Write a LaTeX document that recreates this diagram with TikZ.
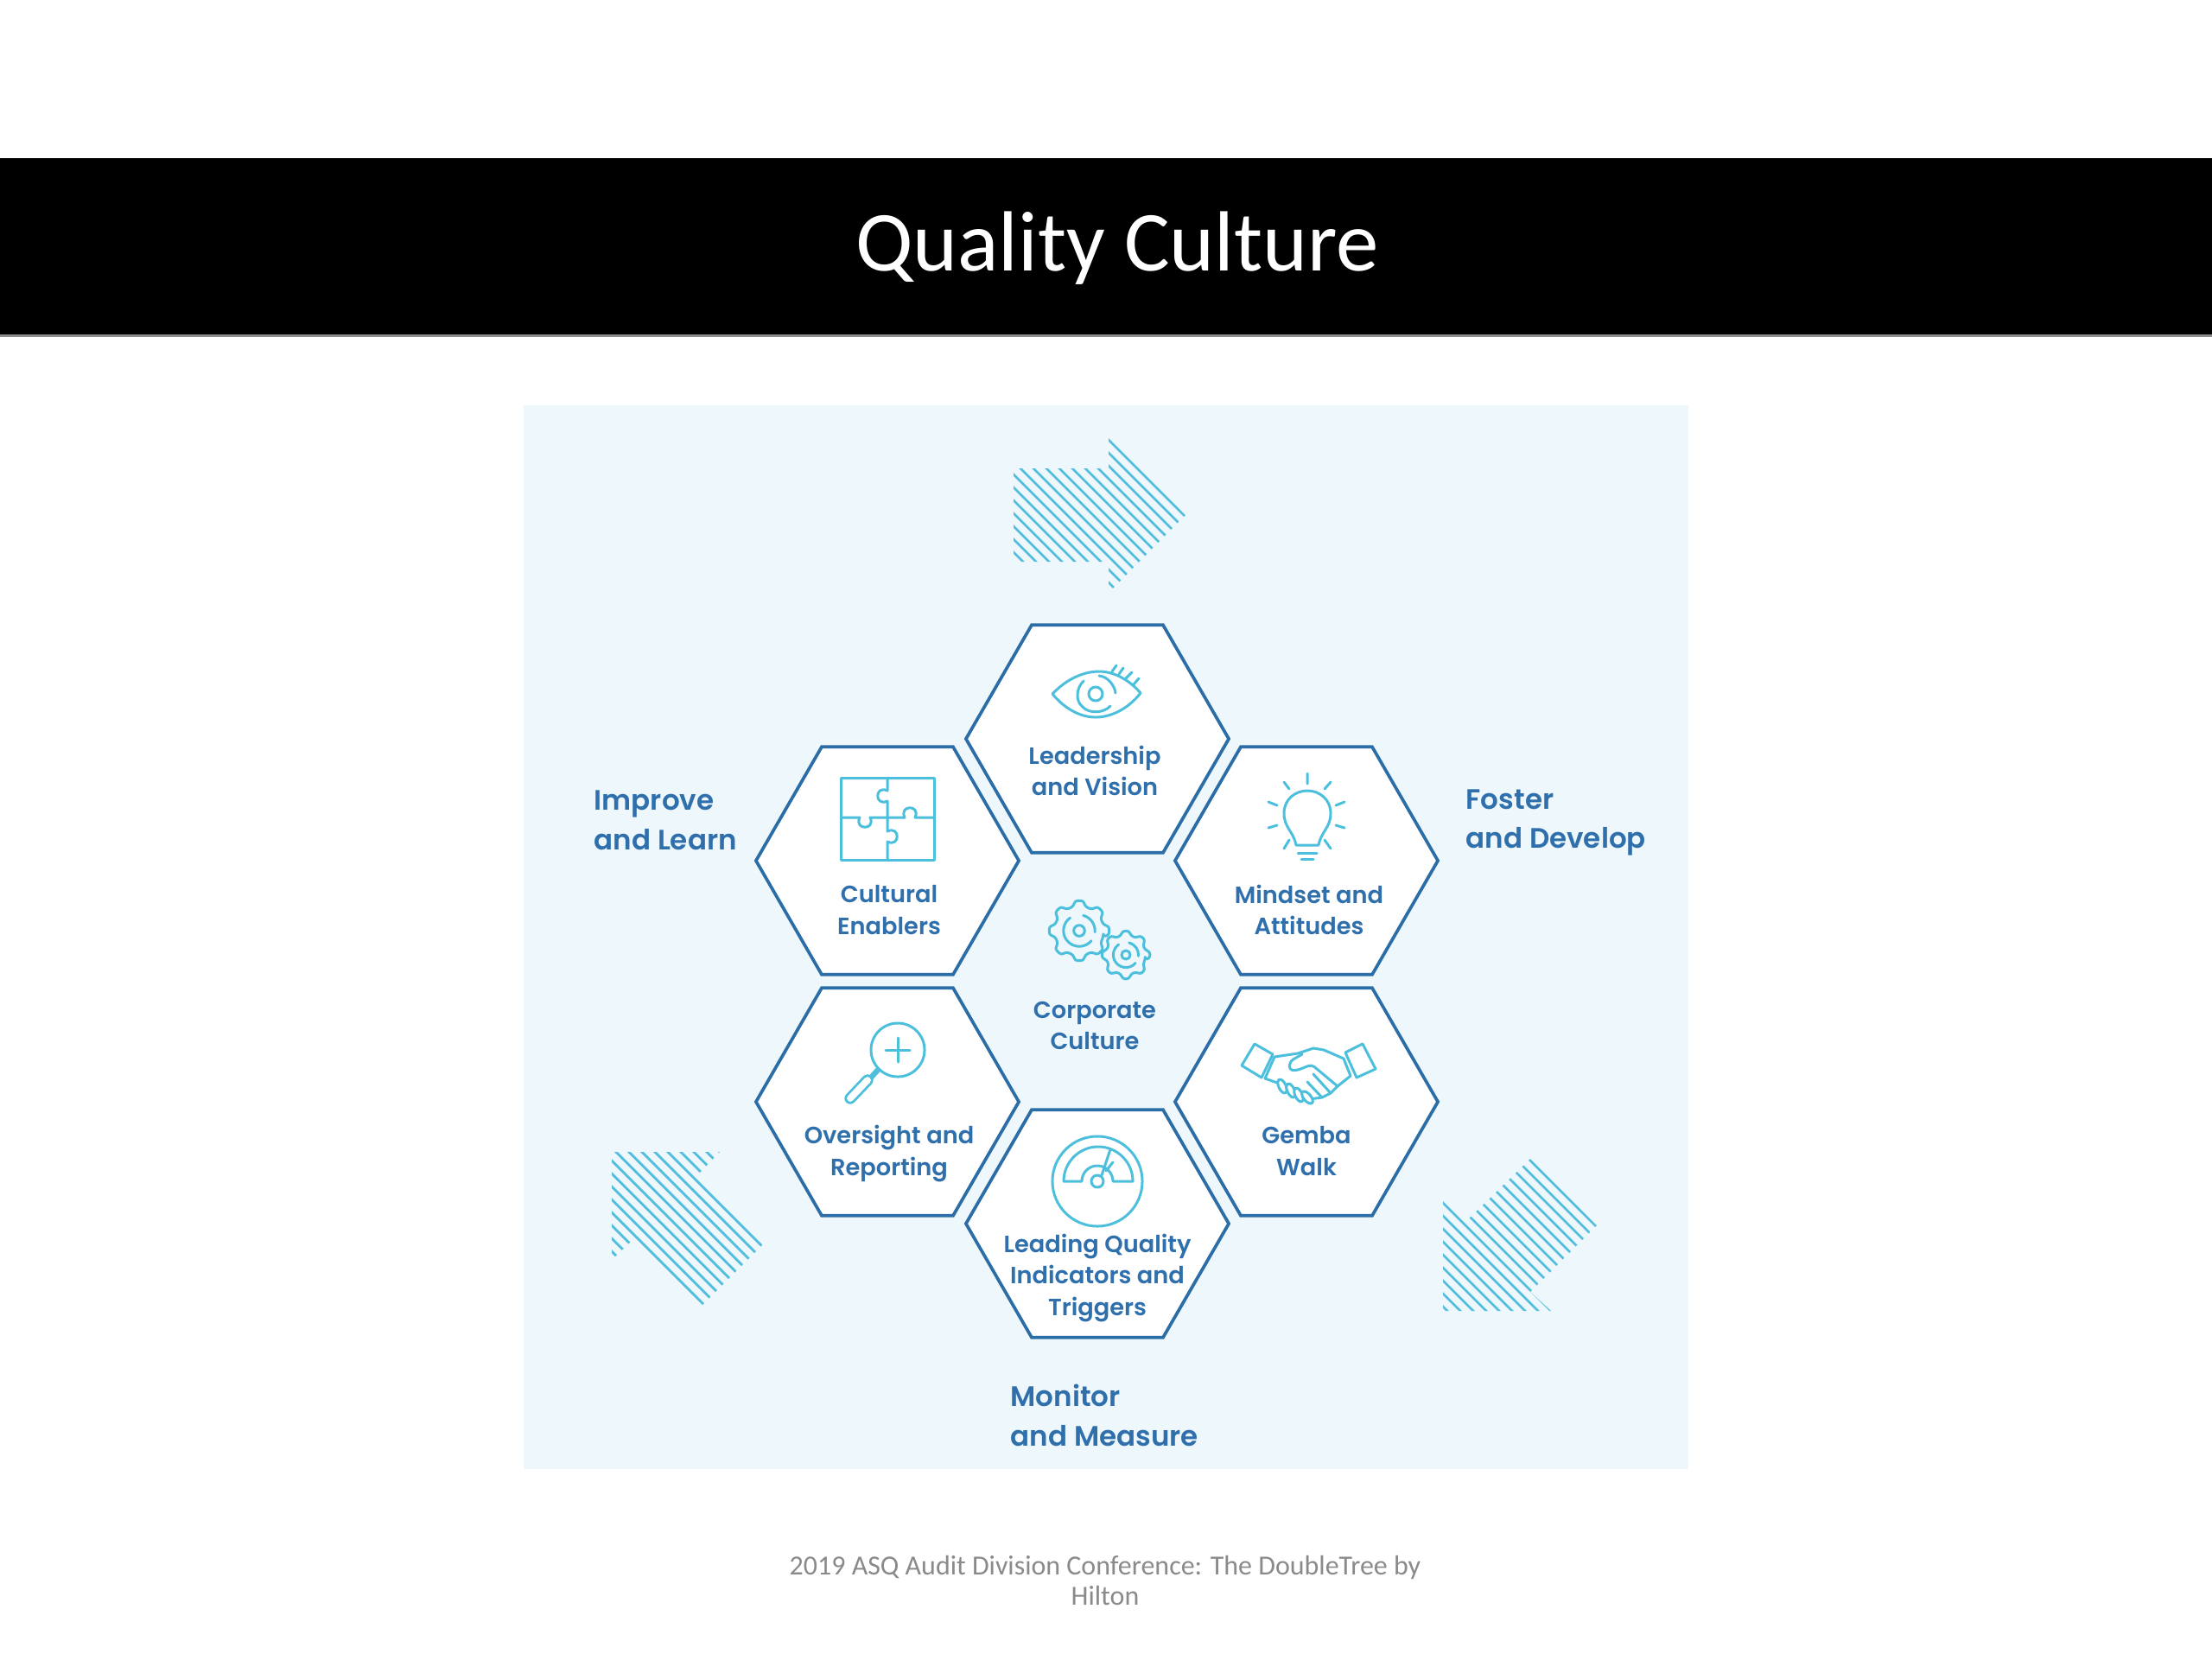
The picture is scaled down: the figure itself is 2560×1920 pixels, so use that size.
\documentclass[tikz,border=0pt]{standalone}
\usepackage{fontspec}
\usetikzlibrary{shapes.geometric}
\setmainfont{Carlito}
\newfontfamily\labfont{Poppins SemiBold}
\definecolor{panelc}{HTML}{EEF7FC}
\definecolor{hexc}{HTML}{2B6DA6}
\definecolor{textc}{HTML}{2F70AC}
\definecolor{iconc}{HTML}{4CBFDC}
\definecolor{hatchc}{HTML}{52BEDD}
\definecolor{footc}{HTML}{8A8A8A}
\tikzset{
 hexa/.style={regular polygon,regular polygon sides=6,minimum size=3.04cm,inner sep=0pt,outer sep=0pt,draw=hexc,fill=white,line width=1.05pt},
 lab/.style={font=\labfont\fontsize{7.75}{10.3}\selectfont,text=textc,align=center,inner sep=0pt},
 biglab/.style={font=\labfont\fontsize{9.25}{13}\selectfont,text=textc,align=left,inner sep=0pt,anchor=west},
 icon/.style={draw=iconc,line width=0.85pt,line join=round,line cap=round},
 hatch/.style={draw=hatchc,line width=0.8pt}
}
\newcommand\gearicon[3]{%
 \draw[icon,rounded corners=0.03cm] ([shift={(#1,#2)}]-14:#3*0.82) \foreach \t in {0,45,...,315}{
   -- ([shift={(#1,#2)}]\t-14:#3*0.82) -- ([shift={(#1,#2)}]\t-8:#3) -- ([shift={(#1,#2)}]\t+8:#3) -- ([shift={(#1,#2)}]\t+14:#3*0.82)
 } -- cycle;
 \draw[icon] (#1,#2) circle (#3*0.18);
 \draw[icon] ([shift={(#1,#2)}]125:#3*0.52) arc (125:320:#3*0.52);
 \draw[icon] ([shift={(#1,#2)}]-5:#3*0.52) arc (-5:75:#3*0.52);
}
\begin{document}
\begin{tikzpicture}[x=0.01cm,y=-0.01cm]
\useasboundingbox (0,0) rectangle (2560,1920);
\fill[white] (0,0) rectangle (2560,1920);
\fill[black!45] (0,386) rectangle (2560,390);
\fill[black] (0,183) rectangle (2560,387);
\node[font=\fontsize{28.1}{32}\selectfont,text=white,inner sep=0pt] (title) at (1293,287) {Quality Culture};
\fill[panelc] (606,469) rectangle (1954,1700);
% hatched arrows
\begin{scope}
\clip (1173,542) -- (1283,542) -- (1283,503) -- (1372,596) -- (1283,686) -- (1283,650) -- (1173,650) -- cycle;
\foreach \k in {0,...,18}{ \draw[hatch] ({1000},{1000-774+15*\k}) -- ({1500},{1500-774+15*\k}); }
\end{scope}
\begin{scope}
\clip (708,1333) -- (833,1333) -- (805,1362) -- (883,1440) -- (813,1510) -- (735,1432) -- (708,1458) -- cycle;
\foreach \k in {0,...,16}{ \draw[hatch] ({600},{600+500+15*\k}) -- ({1000},{1000+500+15*\k}); }
\end{scope}
\begin{scope}
\clip (1670,1390) -- (1695,1415) -- (1772,1340) -- (1848,1418) -- (1771,1495) -- (1795,1517) -- (1670,1517) -- cycle;
\foreach \k in {0,...,18}{ \draw[hatch] ({1600},{1600-428+15*\k}) -- ({1900},{1900-428+15*\k}); }
\end{scope}
% hexagons
\node[hexa] (hlead) at (1270,855) {};
\node[hexa] (hcult) at (1027,996) {};
\node[hexa] (hmind) at (1512,996) {};
\node[hexa] (hover) at (1027,1275) {};
\node[hexa] (hgemba) at (1512,1275) {};
\node[hexa] (hqual) at (1270,1416) {};
% eye
\draw[icon] (1218,803) .. controls (1235,785) and (1255,777) .. (1272,777) .. controls (1292,777) and (1310,790) .. (1320,802) .. controls (1306,820) and (1286,830) .. (1268,830) .. controls (1250,830) and (1232,820) .. cycle;
\draw[icon] (1268,803) circle (0.08cm);
\draw[icon] (1254,788) .. controls (1245,797) and (1245,811) .. (1252,817) .. controls (1260,827) and (1278,825) .. (1285,817);
\draw[icon] (1272,782) .. controls (1282,783) and (1290,793) .. (1291,802);
\draw[icon] (1287,777) -- (1292,770) (1295,780) -- (1300,773) (1303,785) -- (1310,778) (1312,792) -- (1318,785);
% puzzle
\draw[icon] (973,900) rectangle (1081,995);
\draw[icon] (1027,900) -- (1027,915) .. controls (1012,908) and (1012,934) .. (1027,927) -- (1027,962) .. controls (1042,955) and (1042,981) .. (1027,974) -- (1027,995);
\draw[icon] (973,946) -- (995,946) .. controls (988,961) and (1014,961) .. (1007,946) -- (1047,946) .. controls (1040,931) and (1066,931) .. (1059,946) -- (1081,946);
% bulb
\draw[icon] (1500,978) .. controls (1497,962) and (1486,958) .. (1486,941) .. controls (1486,925) and (1499,915) .. (1513,915) .. controls (1527,915) and (1540,925) .. (1540,941) .. controls (1540,958) and (1529,962) .. (1526,978) -- cycle;
\draw[icon] (1502,987) -- (1524,987) (1506,994) -- (1520,994);
\draw[icon] (1513,895) -- (1513,907) (1486,905) -- (1492,913) (1540,905) -- (1533,913) (1468,928) -- (1478,932) (1556,928) -- (1546,932) (1468,958) -- (1478,955) (1556,958) -- (1546,955) (1486,982) -- (1492,972) (1540,982) -- (1533,972);
% gears
\gearicon{1249}{1077}{0.35cm}
\gearicon{1303}{1105}{0.28cm}
% magnifier
\draw[icon] (1039,1215) circle (0.31cm);
\draw[icon] (1025,1215) -- (1053,1215) (1039,1201) -- (1039,1229);
\draw[iconc,line width=1.8pt] (1017,1237) -- (1007,1248);
\draw[iconc,line width=3.8pt,line cap=round] (1004,1250) -- (984,1271);
\draw[white,line width=2.2pt,line cap=round] (1004,1250) -- (984,1271);
% handshake
\draw[icon] (1452,1208) -- (1473,1220) -- (1460,1247) -- (1437,1233) -- cycle;
\draw[icon] (1577,1208) -- (1592,1237) -- (1570,1247) -- (1557,1218) -- cycle;
\draw[icon] (1464,1248) -- (1475,1223) -- (1502,1219) -- (1520,1213) -- (1532,1215) -- (1555,1225) -- (1563,1245) -- (1548,1257);
\draw[icon] (1464,1248) -- (1478,1253);
\draw[icon,rounded corners=0.04cm] (1507,1220) -- (1493,1228) -- (1492,1238) -- (1500,1239) -- (1518,1232) -- (1548,1257);
\draw[icon] (1520,1243) -- (1540,1265) -- (1548,1257) (1513,1252) -- (1530,1270) -- (1540,1265) (1530,1270) -- (1515,1272);
\foreach \fx/\fy/\fa in {1484/1257/-65,1494/1262/-65,1503/1267/-65,1513/1270/-50}{
  \draw[icon,fill=white,rotate around={\fa:(\fx,\fy)}] (\fx,\fy) ellipse (0.085cm and 0.042cm);
}
% gauge
\draw[icon] (1270,1367) circle (0.52cm);
\draw[icon] (1231,1367) arc (180:0:0.40cm) -- (1288,1367) arc (0:180:0.18cm) -- cycle;
\draw[icon,fill=white] (1270,1367) circle (0.07cm);
\draw[icon] (1275,1360) -- (1285,1330) (1280,1355) -- (1288,1345);
% labels
\node[lab] (t1) at (1267,892) {Leadership\\and Vision};
\node[lab] (t2) at (1029,1053) {Cultural\\Enablers};
\node[lab] (t3) at (1515,1053) {Mindset and\\Attitudes};
\node[lab] (t4) at (1267,1187) {Corporate\\Culture};
\node[lab] (t5) at (1029,1335) {Oversight and\\Reporting};
\node[lab] (t6) at (1512,1332) {Gemba\\Walk};
\node[lab] (t7) at (1270,1479) {Leading Quality\\Indicators and\\Triggers};
\node[biglab] (b1) at (687,949) {Improve\\and Learn};
\node[biglab] (b2) at (1696,952) {Foster\\and Develop};
\node[biglab] (b3) at (1169,1638) {Monitor\\and Measure};
\node[font=\fontsize{9.09}{10}\selectfont,text=footc,align=center,inner sep=0pt] (foot) at (1279,1829) {2019 ASQ Audit Division Conference: The DoubleTree by\\Hilton};
\end{tikzpicture}
\end{document}
